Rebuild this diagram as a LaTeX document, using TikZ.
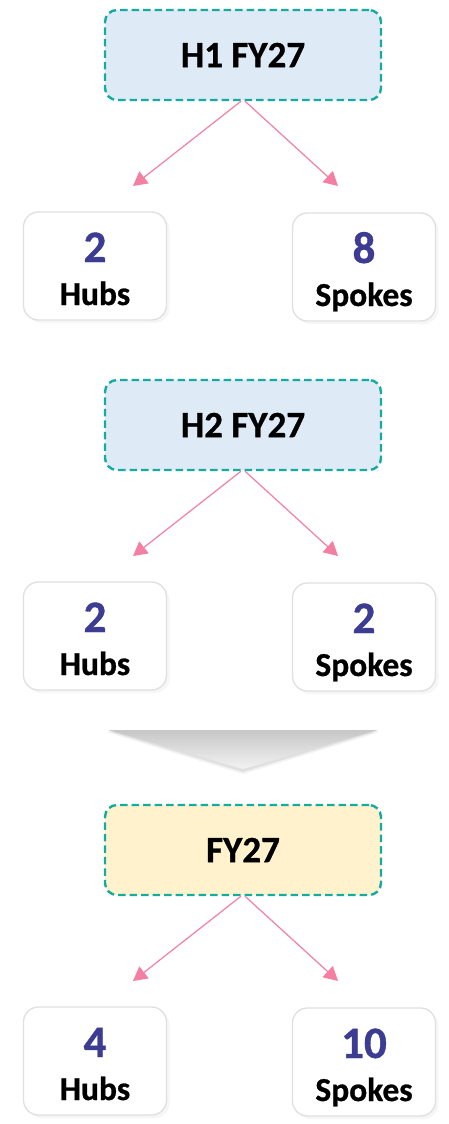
\documentclass[tikz,border=0pt]{standalone}
\usepackage{fontspec}
\setmainfont[BoldFeatures={FakeBold=0.8}]{Carlito}
\usetikzlibrary{arrows.meta,shadows,calc}
\definecolor{hdrblue}{HTML}{DEEAF6}
\definecolor{hdryellow}{HTML}{FFF2CC}
\definecolor{teal}{HTML}{14ACA0}
\definecolor{pinkarrow}{HTML}{F57FA3}
\definecolor{numblue}{HTML}{3C3C92}
\definecolor{boxgray}{HTML}{E0E0E0}
\tikzset{
  hdrbox/.style={draw=teal, line width=2.4pt, dash pattern=on 7.5pt off 4pt,
    rounded corners=12pt, minimum width=276pt, minimum height=90pt,
    inner sep=0pt, font=\fontsize{37}{42}\selectfont\bfseries},
  childbox/.style={draw=boxgray, line width=1.3pt, fill=white, rounded corners=15pt,
    minimum width=143pt, minimum height=108pt, inner sep=0pt,
    drop shadow={opacity=0.07, shadow xshift=3pt, shadow yshift=-3pt}},
  numtxt/.style={anchor=base, text=numblue, inner sep=0pt,
    font=\fontsize{45}{48}\selectfont\bfseries},
  lbltxt/.style={anchor=base, inner sep=0pt,
    font=\fontsize{33.5}{38}\selectfont\bfseries},
  pinkarr/.style={draw=pinkarrow, line width=1.2pt,
    -{Triangle[length=14pt,width=15pt]}},
}
\begin{document}
\begin{tikzpicture}[x=1pt,y=-1pt]
\useasboundingbox[fill=white] (0,0) rectangle (449,1124);

% ---------- group 1 ----------
\node[hdrbox, fill=hdrblue] (t1) at (243,55) {H1 FY27};
\node[childbox] (h1) at (95,266) {};
\node[childbox] (s1) at (364,267) {};
\node[numtxt] (h1n) at (95,262) {2};
\node[lbltxt] (h1l) at (95,305) {Hubs};
\node[numtxt] (s1n) at (364,263) {8};
\node[lbltxt] (s1l) at (364,306) {Spokes};
\coordinate (a1l) at (133,186);
\coordinate (a1r) at (338,186);
\draw[pinkarr] ([xshift=-2pt]t1.south) -- (a1l);
\draw[pinkarr] ([xshift=2pt]t1.south) -- (a1r);

% ---------- group 2 ----------
\node[hdrbox, fill=hdrblue] (t2) at (243,425) {H2 FY27};
\node[childbox] (h2) at (95,636) {};
\node[childbox] (s2) at (364,637) {};
\node[numtxt] (h2n) at (95,632) {2};
\node[lbltxt] (h2l) at (95,675) {Hubs};
\node[numtxt] (s2n) at (364,633) {2};
\node[lbltxt] (s2l) at (364,676) {Spokes};
\coordinate (a2l) at (133,556);
\coordinate (a2r) at (338,556);
\draw[pinkarr] ([xshift=-2pt]t2.south) -- (a2l);
\draw[pinkarr] ([xshift=2pt]t2.south) -- (a2r);

% ---------- chevron ----------
\fill[black, opacity=0.05] (106,732) -- (380,732) -- (243,774) -- cycle;
\fill[black, opacity=0.07] (108,731) -- (378,731) -- (243,772) -- cycle;
\shade[top color=black!22, bottom color=black!5] (108,730) -- (378,730) -- (243,769) -- cycle;

% ---------- group 3 ----------
\node[hdrbox, fill=hdryellow] (t3) at (243,850) {FY27};
\node[childbox] (h3) at (95,1061) {};
\node[childbox] (s3) at (364,1062) {};
\node[numtxt] (h3n) at (95,1057) {4};
\node[lbltxt] (h3l) at (95,1100) {Hubs};
\node[numtxt] (s3n) at (364,1058) {10};
\node[lbltxt] (s3l) at (364,1101) {Spokes};
\coordinate (a3l) at (133,981);
\coordinate (a3r) at (338,981);
\draw[pinkarr] ([xshift=-2pt]t3.south) -- (a3l);
\draw[pinkarr] ([xshift=2pt]t3.south) -- (a3r);
\end{tikzpicture}
\end{document}
